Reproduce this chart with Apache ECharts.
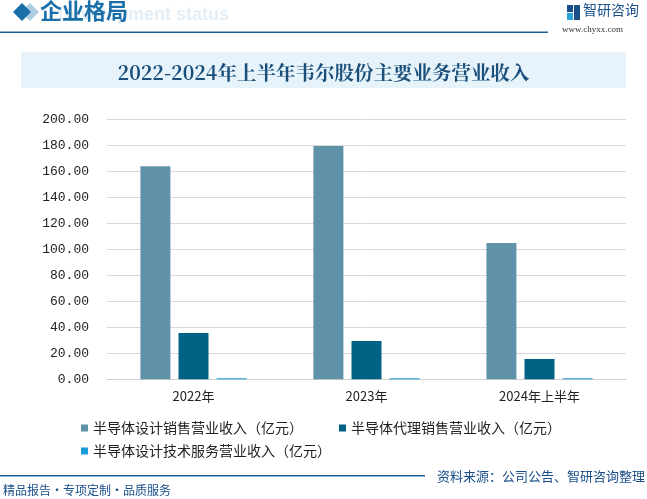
<!DOCTYPE html>
<html>
<head>
<meta charset="utf-8">
<script src="https://cdn.jsdelivr.net/npm/echarts@6/dist/echarts.min.js"></script>
<style>
html,body{margin:0;padding:0;background:#fff;}
#c{width:647px;height:499px;}
</style>
</head>
<body>
<div id="c"></div>
<script>
var categories = ['2022年', '2023年', '2024年上半年'];
var seriesNames = ['半导体设计销售营业收入（亿元）', '半导体代理销售营业收入（亿元）', '半导体设计技术服务营业收入（亿元）'];
var designSales = [163.8, 179.5, 104.8];
var agentSales = [35.6, 29.5, 15.6];
var techService = [0.8, 0.7, 0.7];
var yTicks = [0, 20, 40, 60, 80, 100, 120, 140, 160, 180, 200];

var colors = ['#5f91a8', '#006185', '#1a9ad6'];
var chart = echarts.init(document.getElementById('c'));
var cjk = '"Noto Sans CJK SC", sans-serif';

chart.setOption({
  animation: false,
  backgroundColor: '#ffffff',
  color: colors,
  title: {
    text: '2022-2024年上半年韦尔股份主要业务营业收入',
    left: 'center',
    top: 58,
    textStyle: {fontFamily: '"Noto Serif CJK SC", "Noto Sans CJK SC", serif', fontSize: 19.5, fontWeight: 'bold', color: '#1b4f7a'}
  },
  grid: {left: 107, right: 21, top: 119.3, bottom: 119.7, containLabel: false},
  legend: [{
    data: [seriesNames[0], seriesNames[1]],
    left: 76, top: 416, itemWidth: 7, itemHeight: 7, itemGap: 36,
    icon: 'rect',
    textStyle: {fontFamily: cjk, fontSize: 14, color: '#222'}
  }, {
    data: [seriesNames[2]],
    left: 76, top: 439, itemWidth: 7, itemHeight: 7,
    icon: 'rect',
    textStyle: {fontFamily: cjk, fontSize: 14, color: '#222'}
  }],
  xAxis: {
    type: 'category',
    data: categories,
    axisLine: {lineStyle: {color: '#d0d0d0', width: 1}},
    axisTick: {show: false},
    axisLabel: {fontFamily: cjk, fontSize: 13, color: '#222', margin: 10}
  },
  yAxis: {
    type: 'value',
    min: yTicks[0], max: yTicks[yTicks.length - 1], interval: 20,
    axisLine: {show: false},
    axisTick: {show: false},
    splitLine: {lineStyle: {color: '#d9d9d9', width: 1}},
    axisLabel: {
      formatter: function (v) { return v.toFixed(2); },
      fontFamily: '"Liberation Mono", monospace', fontSize: 13, color: '#222', margin: 18
    }
  },
  series: [
    {name: seriesNames[0], type: 'bar', data: designSales, barWidth: 30, barGap: '27%', barCategoryGap: '38%', itemStyle: {color: colors[0]}},
    {name: seriesNames[1], type: 'bar', data: agentSales, barWidth: 30, itemStyle: {color: colors[1]}},
    {name: seriesNames[2], type: 'bar', data: techService, barWidth: 30, barMinHeight: 1, itemStyle: {color: colors[2]}}
  ],
  graphic: [
    {type: 'rect', shape: {x: 21, y: 52, width: 605, height: 36}, style: {fill: '#e6f3fb'}, z: -10},
    {type: 'polygon', shape: {points: [[22, 3], [31, 12], [22, 21], [13, 12]]}, style: {fill: '#1a6fa8'}},
    {type: 'polygon', shape: {points: [[30, 3], [39, 12], [30, 21], [21, 12]]}, style: {fill: '#1a6fa8', opacity: 0.35}},
    {type: 'text', left: 58, top: 6, style: {text: 'Development status', fontSize: 18, fontWeight: 'bold', fill: '#e3eef6', fontFamily: 'Arial, sans-serif'}, z: 1},
    {type: 'text', left: 40, top: 0, style: {text: '企业格局', fontSize: 22, fill: '#1a6fa8', fontFamily: cjk, fontWeight: 'bold'}, z: 2},
    {type: 'rect', shape: {x: 0, y: 31.5, width: 548, height: 1.5}, style: {fill: '#1a5e95'}},
    {type: 'rect', shape: {x: 567, y: 5, width: 6, height: 7}, style: {fill: '#1a4f8a'}},
    {type: 'rect', shape: {x: 567, y: 13, width: 6, height: 7}, style: {fill: '#29a3dc'}},
    {type: 'rect', shape: {x: 574, y: 5, width: 6, height: 15}, style: {fill: '#1a4f8a'}},
    {type: 'text', left: 583, top: 3, style: {text: '智研咨询', fontSize: 14, fill: '#1a4f8a', fontFamily: cjk}},
    {type: 'text', left: 562, top: 25, style: {text: 'www.chyxx.com', fontSize: 9, fill: '#333', fontFamily: '"Liberation Serif", serif'}},
    {type: 'rect', shape: {x: 0, y: 475, width: 425, height: 1.5}, style: {fill: '#1a5e95'}},
    {type: 'text', right: 2, top: 470, style: {text: '资料来源：公司公告、智研咨询整理', fontSize: 13, fill: '#1a4f8a', fontFamily: cjk}},
    {type: 'text', left: 3, top: 484, style: {text: '精品报告·专项定制·品质服务', fontSize: 12, fill: '#1a4f8a', fontFamily: cjk}}
  ]
});
</script>
</body>
</html>
